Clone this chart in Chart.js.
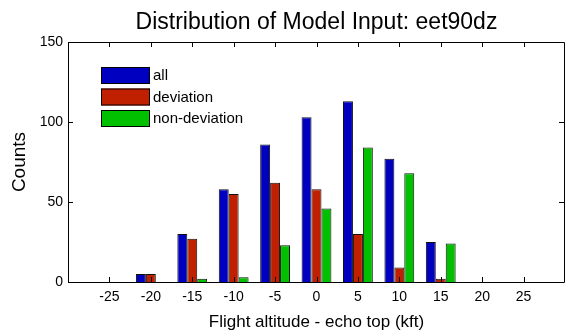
<!DOCTYPE html>
<html>
<head>
<meta charset="utf-8">
<script src="https://cdn.jsdelivr.net/npm/chart.js@4/dist/chart.umd.min.js"></script>
<style>
  html, body { margin: 0; padding: 0; background: #fff; }
  #wrap { width: 566px; height: 332px; position: relative; }
</style>
</head>
<body>
<div id="wrap"><canvas id="c" width="566" height="332"></canvas></div>
<script>
// Histogram bins: flight altitude minus echo top (kft)
const binCenters = [-20, -15, -10, -5, 0, 5, 10, 15];
const allCounts = [5, 30, 58, 86, 103, 113, 77, 25];
const deviationCounts = [5, 27, 55, 62, 58, 30, 9, 2];
const nonDeviationCounts = [0, 2, 3, 23, 46, 84, 68, 24];
const xTickLabels = [-25, -20, -15, -10, -5, 0, 5, 10, 15, 20, 25];
const yTickLabels = [0, 50, 100, 150];

const FONT = '"Liberation Sans", Arial, sans-serif';

const toPoints = vals => binCenters.map((x, i) => ({ x: x, y: vals[i] }));

// Frame, inward tick marks on all four sides, titles and the boxed legend
const decorations = {
  id: 'decorations',
  afterDraw(chart) {
    const { ctx, chartArea: a, scales } = chart;
    const xs = scales.x, ys = scales.y;
    ctx.save();
    ctx.strokeStyle = '#000';
    ctx.lineWidth = 1;
    ctx.beginPath();
    ctx.rect(Math.round(a.left) + 0.5, Math.round(a.top) + 0.5,
             Math.round(a.right - a.left) - 1, Math.round(a.bottom - a.top));
    ctx.stroke();
    const tl = 5;
    ctx.beginPath();
    xTickLabels.forEach(v => {
      const px = Math.round(xs.getPixelForValue(v)) + 0.5;
      ctx.moveTo(px, a.bottom); ctx.lineTo(px, a.bottom - tl);
      ctx.moveTo(px, a.top); ctx.lineTo(px, a.top + tl);
    });
    yTickLabels.forEach(v => {
      const py = Math.round(ys.getPixelForValue(v)) + 0.5;
      ctx.moveTo(a.left, py); ctx.lineTo(a.left + tl, py);
      ctx.moveTo(a.right - 1, py); ctx.lineTo(a.right - 1 - tl, py);
    });
    ctx.stroke();

    const cx = (a.left + a.right) / 2;
    ctx.fillStyle = '#000';
    ctx.textAlign = 'center';
    ctx.textBaseline = 'alphabetic';

    // chart title
    ctx.font = '23px ' + FONT;
    ctx.fillText('Distribution of Model Input: eet90dz', cx, 29);

    // x axis title
    ctx.font = '17px ' + FONT;
    ctx.fillText('Flight altitude - echo top (kft)', cx, 327);

    // y axis title
    ctx.save();
    ctx.translate(20, (a.top + a.bottom) / 2);
    ctx.rotate(-Math.PI / 2);
    ctx.textBaseline = 'middle';
    ctx.font = '19px ' + FONT;
    ctx.fillText('Counts', 0, 0);
    ctx.restore();

    // legend
    ctx.font = '15px ' + FONT;
    ctx.textAlign = 'left';
    ctx.textBaseline = 'middle';
    chart.data.datasets.forEach((ds, i) => {
      const bx = 101, by = 67 + i * 21.5, bw = 49, bh = 17;
      ctx.fillStyle = ds.backgroundColor;
      ctx.fillRect(bx, by, bw, bh);
      ctx.strokeStyle = '#000';
      ctx.strokeRect(bx + 0.5, by + 0.5, bw - 1, bh - 1);
      ctx.fillStyle = '#000';
      ctx.fillText(ds.label, bx + bw + 3, by + bh / 2 + 0.5);
    });
    ctx.restore();
  }
};

new Chart(document.getElementById('c'), {
  type: 'bar',
  data: {
    datasets: [
      { label: 'all', data: toPoints(allCounts), backgroundColor: '#0000c0' },
      { label: 'deviation', data: toPoints(deviationCounts), backgroundColor: '#c02000' },
      { label: 'non-deviation', data: toPoints(nonDeviationCounts), backgroundColor: '#00c000' }
    ]
  },
  options: {
    responsive: false,
    animation: false,
    layout: { padding: { top: 42, right: 1, left: 0, bottom: 0 } },
    datasets: {
      bar: {
        borderColor: '#111',
        borderWidth: 1,
        borderSkipped: 'start',
        categoryPercentage: 0.72,
        barPercentage: 1.0
      }
    },
    plugins: {
      legend: { display: false },
      title: { display: false },
      tooltip: { enabled: false }
    },
    scales: {
      x: {
        type: 'linear',
        min: -30,
        max: 30,
        offset: false,
        afterBuildTicks(scale) {
          scale.ticks = xTickLabels.map(v => ({ value: v }));
        },
        afterFit(scale) { scale.height = 50; },
        grid: { display: false, drawTicks: false },
        border: { display: false },
        ticks: {
          color: '#000',
          font: { family: FONT, size: 14 },
          padding: 7,
          maxRotation: 0,
          autoSkip: false
        }
      },
      y: {
        min: 0,
        max: 150,
        afterBuildTicks(scale) {
          scale.ticks = yTickLabels.map(v => ({ value: v }));
        },
        afterFit(scale) { scale.width = 68; },
        grid: { display: false, drawTicks: false },
        border: { display: false },
        ticks: {
          color: '#000',
          font: { family: FONT, size: 14 },
          padding: 5
        }
      }
    }
  },
  plugins: [decorations]
});
</script>
</body>
</html>
